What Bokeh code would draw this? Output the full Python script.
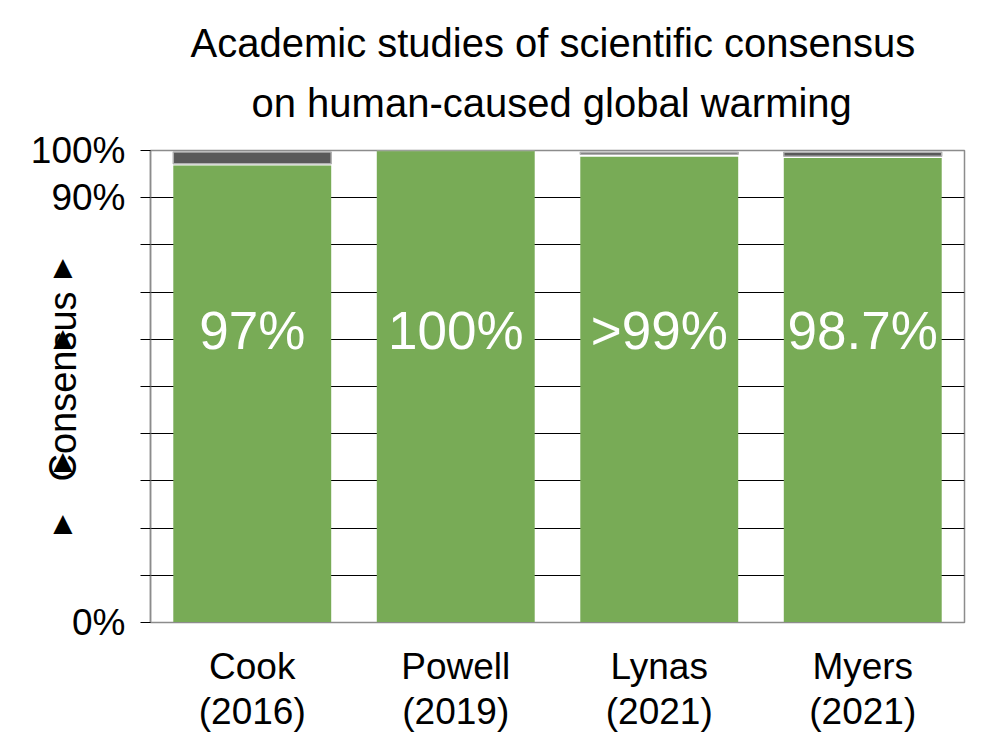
from bokeh.embed import file_html
from bokeh.models import FactorRange, FixedTicker, Label, LinearAxis, Title
from bokeh.plotting import figure
from bokeh.resources import INLINE

# data
studies = ["Cook", "Powell", "Lynas", "Myers"]
years = ["(2016)", "(2019)", "(2021)", "(2021)"]
consensus = [96.8, 100.0, 98.7, 98.4]
dissent_bottom = [97.2, 100.0, 99.2, 98.8]
dissent_top = [99.7, 100.0, 99.65, 99.65]
bar_labels = ["97%", "100%", ">99%", "98.7%"]
y_ticks = [0, 10, 20, 30, 40, 50, 60, 70, 80, 90, 100]
y_tick_labels = {0: "0%", 90: "90%", 100: "100%"}
arrow_ticks = [21.2, 34.4, 60.4, 75.4]
title_lines = ["Academic studies of scientific consensus",
               "on human-caused global warming"]

FONT = "Liberation Sans"
GREEN = "#78ab56"
DARK = "#595959"

p = figure(x_range=FactorRange(factors=studies), y_range=(0, 100),
           width=984, height=734, output_backend="svg", toolbar_location=None,
           min_border_left=150, min_border_right=20,
           min_border_top=150, min_border_bottom=104)
p.title.visible = False
p.outline_line_color = "#8c8c8c"
p.outline_line_width = 1.5

# bars
p.vbar(x=studies, top=consensus, bottom=0, width=0.776,
       fill_color=GREEN, line_color=None)
p.vbar(x=studies, top=dissent_top, bottom=dissent_bottom, width=0.776,
       fill_color=DARK, line_color="#b0b0b0", line_width=1.5)

# x axis: study names, plus a second axis below for the years
p.xaxis.major_label_text_font = FONT
p.xaxis.major_label_text_font_size = "37px"
p.xaxis.major_label_text_color = "black"
p.xaxis.major_label_standoff = 17
p.xaxis.major_tick_line_color = None
p.xaxis.axis_line_color = "#8c8c8c"
p.xgrid.visible = False

year_pos = [i + 0.5 for i in range(len(studies))]
year_axis = LinearAxis(ticker=FixedTicker(ticks=year_pos),
                       major_label_overrides=dict(zip(year_pos, years)),
                       major_label_text_font=FONT,
                       major_label_text_font_size="37px",
                       major_label_text_color="black",
                       major_label_standoff=-5,
                       major_tick_line_color=None,
                       minor_tick_line_color=None,
                       axis_line_color=None)
p.add_layout(year_axis, "below")

# y axis
p.ygrid.ticker = FixedTicker(ticks=y_ticks)
p.ygrid.grid_line_color = "black"
p.ygrid.grid_line_width = 1
p.yaxis.ticker = FixedTicker(ticks=y_ticks)
p.yaxis.major_label_overrides = {t: y_tick_labels.get(t, "") for t in y_ticks}
p.yaxis.major_label_text_font = FONT
p.yaxis.major_label_text_font_size = "37px"
p.yaxis.major_label_text_color = "black"
p.yaxis.major_label_standoff = 15
p.yaxis.major_tick_in = 0
p.yaxis.major_tick_out = 10
p.yaxis.major_tick_line_color = "black"
p.yaxis.minor_tick_line_color = None
p.yaxis.axis_line_color = "#8c8c8c"
p.yaxis.axis_line_width = 1.5
p.yaxis.axis_label = "Consensus"
p.yaxis.axis_label_text_font = FONT
p.yaxis.axis_label_text_font_size = "38px"
p.yaxis.axis_label_text_font_style = "normal"
p.yaxis.axis_label_text_color = "black"
p.yaxis.axis_label_standoff = -56

# arrow marks next to the axis label, drawn as labels of an extra axis
arrow_axis = LinearAxis(ticker=FixedTicker(ticks=arrow_ticks),
                        major_label_overrides={t: "\u25b2" for t in arrow_ticks},
                        major_label_text_font="DejaVu Sans",
                        major_label_text_font_size="25px",
                        major_label_text_color="black",
                        major_label_text_align="center",
                        major_label_standoff=-40,
                        major_tick_line_color=None,
                        minor_tick_line_color=None,
                        axis_line_color=None)
p.add_layout(arrow_axis, "left")

# title, two lines (added bottom line first)
for line, standoff, off in zip(reversed(title_lines), [51, -22], [101, 40]):
    p.add_layout(Title(text=line, align="left", offset=off, text_font=FONT,
                       text_font_size="40px", text_font_style="normal",
                       text_color="black", standoff=standoff), "above")

# value labels inside bars
for i, txt in enumerate(bar_labels):
    p.add_layout(Label(x=i + 0.5, y=61.9, text=txt, text_font=FONT,
                       text_font_size="53px", text_color="white",
                       text_align="center", text_baseline="alphabetic"))

open("out.html", "w").write(file_html(p, INLINE))
